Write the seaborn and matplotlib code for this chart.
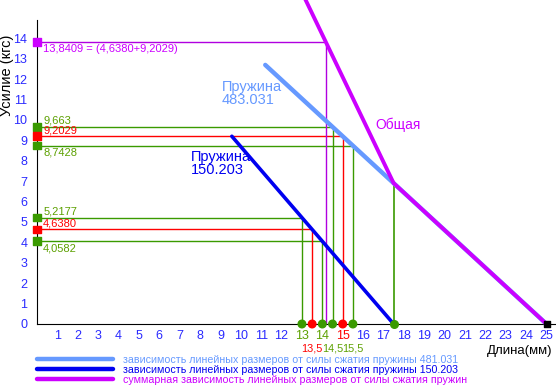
import numpy as np
import matplotlib
matplotlib.use("Agg")
import matplotlib.pyplot as plt
import seaborn as sns

# spring 150.203 (dark blue)
len_150 = [9.56, 17.5]
force_150 = [9.2029, 0.0]
# spring 483.031 (light blue)
len_483 = [11.2, 25.0]
force_483 = [12.70, 0.0]
# combined ("Общая")
len_total = [9.56, 17.5, 25.0]
force_total = [23.415, 6.902, 0.0]

# reference points (length, force, colour, label, label above?)
ref_len = [13.0, 13.5, 14.0, 14.5, 15.0, 15.5]
ref_force = [5.2177, 4.6380, 4.0582, 9.663, 9.2029, 8.7428]
ref_kind = ["g", "r", "g", "g", "r", "g"]
ref_label = ["5,2177", "4,6380", "4,0582", "9,663", "9,2029", "8,7428"]
ref_above = [True, True, False, True, True, False]

total_len = 14.163
total_force = 13.8409
total_label = "13,8409 = (4,6380+9,2029)"

end_len = [17.5, 25.0]
end_force_kink = 6.902

x_ticks = list(range(1, 26))
y_ticks = list(range(0, 15))
half_ticks = [13.5, 14.5, 15.5]
half_labels = ["13,5", "14,5", "15,5"]
half_kind = ["r", "g", "g"]

legend_labels = [
    "зависимость линейных размеров от силы сжатия пружины 481.031",
    "зависимость линейных размеров от силы сжатия пружины 150.203",
    "суммарная зависимость линейных размеров от силы сжатия пружин",
]

C = {"g": "#3a9a00", "r": "#ff0000", "m": "#cc00ff", "lb": "#6699ff",
     "b": "#0000f0", "tick": "#2a2aff"}
TXT = {"g": "#5ca000", "r": "#ff0000"}

sns.set_style("white")
plt.rcParams["font.family"] = ["Liberation Sans", "DejaVu Sans"]

fig = plt.figure(figsize=(5.56, 3.88), dpi=100)
ax = fig.add_axes([0, 0, 1, 1])
ax.set_xlim(-37 / 20.38, (556 - 37) / 20.38)
ax.set_ylim((324 - 388) / 20.4, 324 / 20.4)

# reference lines
ax.hlines(ref_force, 0, ref_len, colors=[C[k] for k in ref_kind], lw=1, zorder=2)
ax.vlines(ref_len, 0, ref_force, colors=[C[k] for k in ref_kind], lw=1, zorder=2)
ax.hlines([total_force], 0, [total_len], colors="#b000e0", lw=1, zorder=2)
ax.vlines([total_len], 0, [total_force], colors="#b000e0", lw=1, zorder=2)
ax.vlines([end_len[0]], 0, [end_force_kink], colors=C["g"], lw=1.2, zorder=2)

# curves
sns.lineplot(x=len_483, y=force_483, color=C["lb"], lw=3.2, ax=ax,
             label=legend_labels[0], zorder=3)
sns.lineplot(x=len_150, y=force_150, color=C["b"], lw=2.6, ax=ax,
             label=legend_labels[1], zorder=3)
sns.lineplot(x=len_total, y=force_total, color=C["m"], lw=2.8, ax=ax,
             label=legend_labels[2], zorder=4)

# markers
ax.scatter([0] * len(ref_force), ref_force, marker="s", s=30,
           c=[C[k] for k in ref_kind], zorder=5, clip_on=False)
ax.scatter([0], [total_force], marker="s", s=30, c=C["m"], zorder=5)
ax.scatter(ref_len, [0] * len(ref_len), marker="o", s=30,
           c=[C[k] for k in ref_kind], zorder=5)
ax.scatter([end_len[0]], [0], marker="o", s=30, c=C["g"], zorder=5)
ax.scatter([end_len[1]], [0], marker="s", s=25, c="black", zorder=5)

# value labels on the force axis
for f, k, lab, up in zip(ref_force, ref_kind, ref_label, ref_above):
    ax.text(0.3, f + (0.05 if up else -0.1), lab, color=TXT[k], fontsize=8,
            ha="left", va="bottom" if up else "top")
ax.text(0.3, total_force - 0.1, total_label, color="#cc00ff", fontsize=8,
        ha="left", va="top")

# curve names
ax.text(9.08, 11.96, "Пружина\n483.031", color=C["lb"], fontsize=10.5,
        ha="left", va="top", linespacing=0.95)
ax.text(7.56, 8.53, "Пружина\n150.203", color=C["b"], fontsize=10.5,
        ha="left", va="top", linespacing=0.95)
ax.text(16.6, 9.75, "Общая", color="#cc00ff", fontsize=10, ha="left", va="center")

# axes through origin
for s in ["top", "right"]:
    ax.spines[s].set_visible(False)
ax.spines["left"].set_position(("data", 0))
ax.spines["bottom"].set_position(("data", 0))
ax.spines["left"].set_bounds(0, 14.9)
ax.spines["bottom"].set_bounds(0, 25.45)
ax.spines["left"].set_color("black")
ax.spines["bottom"].set_color("black")
ax.spines["left"].set_zorder(1)

ax.set_xticks(x_ticks)
ax.set_yticks(y_ticks)
ax.set_xticklabels([str(t) for t in x_ticks])
ax.set_yticklabels([str(t) for t in y_ticks])
ax.tick_params(axis="both", direction="inout", length=6, width=1, color="black",
               labelsize=9, labelcolor=C["tick"])
ax.tick_params(axis="x", pad=1)
ax.tick_params(axis="y", pad=4)
for lab, t in zip(ax.get_xticklabels(), x_ticks):
    if t in (13, 14):
        lab.set_color(TXT["g"])
    elif t == 15:
        lab.set_color(TXT["r"])

for x, lab, k in zip(half_ticks, half_labels, half_kind):
    ax.text(x, -1.2, lab, color=TXT[k], fontsize=7.8, ha="center", va="center")

ax.text(25.3, -1.3, "Длина(мм)", fontsize=9.5, color="black", ha="right", va="center")
ax.text(-1.45, 12.2, "Усилие (кгс)", fontsize=10.5, color="black", rotation=90,
        ha="center", va="center")

leg = ax.legend(loc="upper left", bbox_to_anchor=(37 / 556, 1 - 355 / 388),
                bbox_transform=fig.transFigure, frameon=False, fontsize=7.7,
                handlelength=7.1, handletextpad=0.9, labelspacing=0.0,
                borderpad=0, borderaxespad=0, labelcolor="linecolor")
for line in leg.get_lines():
    line.set_linewidth(3.2)

fig.savefig("out.png", dpi=100)
